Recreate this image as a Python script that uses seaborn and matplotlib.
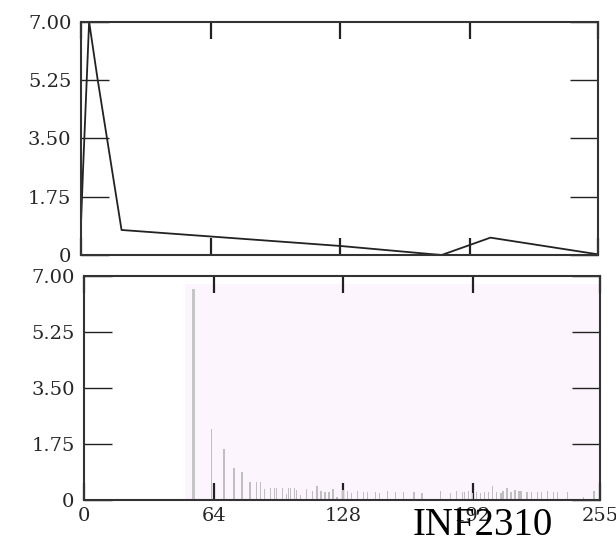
import matplotlib
matplotlib.use("Agg")
import matplotlib.pyplot as plt
import seaborn as sns
import pandas as pd

# ---- data ----
top_x = [0, 1, 4, 8, 20, 128, 172, 178, 202, 255]
top_y = [0.95, 2.55, 7.0, 5.35, 0.75, 0.27, 0.03, 0.0, 0.52, 0.02]

peak_x = [54]
peak_h = [6.6]

bar_x = [63, 69, 74, 78, 82, 85, 87, 89, 92, 94, 95, 98, 100, 101, 102, 104, 105,
         107, 110, 113, 115, 117, 119, 121, 123, 125, 128, 130, 132, 135, 138, 140,
         144, 146, 150, 154, 158, 163, 167, 176, 181, 184, 187, 188, 190, 192, 194,
         196, 198, 200, 202, 204, 206, 207, 209, 211, 213, 215, 216, 219, 221, 224,
         226, 229, 232, 234, 239, 247, 252]
bar_h = [2.22, 1.60, 0.99, 0.86, 0.57, 0.55, 0.55, 0.34, 0.36, 0.36, 0.36, 0.36,
         0.19, 0.36, 0.36, 0.36, 0.30, 0.15, 0.33, 0.29, 0.44, 0.27, 0.24, 0.24,
         0.33, 0.10, 0.31, 0.29, 0.21, 0.29, 0.26, 0.26, 0.24, 0.23, 0.28, 0.26,
         0.24, 0.26, 0.23, 0.28, 0.23, 0.29, 0.26, 0.26, 0.29, 0.23, 0.26, 0.21,
         0.24, 0.24, 0.44, 0.26, 0.23, 0.29, 0.36, 0.24, 0.31, 0.28, 0.28, 0.26,
         0.26, 0.26, 0.24, 0.28, 0.24, 0.24, 0.26, 0.08, 0.28]

x_ticks = [0, 64, 128, 192, 255]
y_ticks = [0, 1.75, 3.50, 5.25, 7.00]
y_labels = ["0", "1.75", "3.50", "5.25", "7.00"]
footer = "INF2310"

# ---- style ----
sns.set_style("ticks")
plt.rcParams["font.family"] = ["DejaVu Serif"]
plt.rcParams["axes.edgecolor"] = "#333333"
plt.rcParams["axes.linewidth"] = 1.5

fig = plt.figure(figsize=(6.16, 5.41), dpi=100)
ax1 = fig.add_axes([0.1315, 0.5287, 0.839, 0.4312])
ax2 = fig.add_axes([0.1369, 0.0758, 0.837, 0.414])

# top: line
df_top = pd.DataFrame({"x": top_x, "y": top_y})
sns.lineplot(data=df_top, x="x", y="y", ax=ax1, color="#222222", lw=1.3, sort=False)

# bottom: stems
ax2.axvspan(50, 255, ymin=0, ymax=6.75 / 7, color="#fdf5fd", lw=0, zorder=0)
sns.histplot(x=bar_x, weights=bar_h, discrete=True, shrink=0.65, color="#bfbfbf",
             alpha=1, linewidth=0, ax=ax2, zorder=2)
sns.histplot(x=peak_x, weights=peak_h, discrete=True, shrink=1.5, color="#c6c6c6",
             alpha=1, linewidth=0, ax=ax2, zorder=2)

for ax in (ax1, ax2):
    ax.set_xlim(0, 255)
    ax.set_ylim(0, 7)
    ax.set_xticks(x_ticks)
    ax.set_yticks(y_ticks)
    ax.set_yticklabels(y_labels)
    ax.set_xlabel("")
    ax.set_ylabel("")
    ax.tick_params(axis="x", direction="in", top=True, bottom=True, length=12,
                   width=1.6, color="#222222", labelsize=14, pad=5)
    ax.tick_params(axis="y", direction="in", left=True, right=True, length=20,
                   width=1.0, color="#222222", labelsize=14, pad=7)
    for s in ax.spines.values():
        s.set_visible(True)

ax1.set_xticklabels([])
ax2.set_xticklabels([str(v) for v in x_ticks])

fig.text(413 / 616, 0.012, footer, family=["Liberation Serif"], fontsize=28,
         va="baseline", ha="left", color="black")

fig.savefig("out.png", dpi=100)
